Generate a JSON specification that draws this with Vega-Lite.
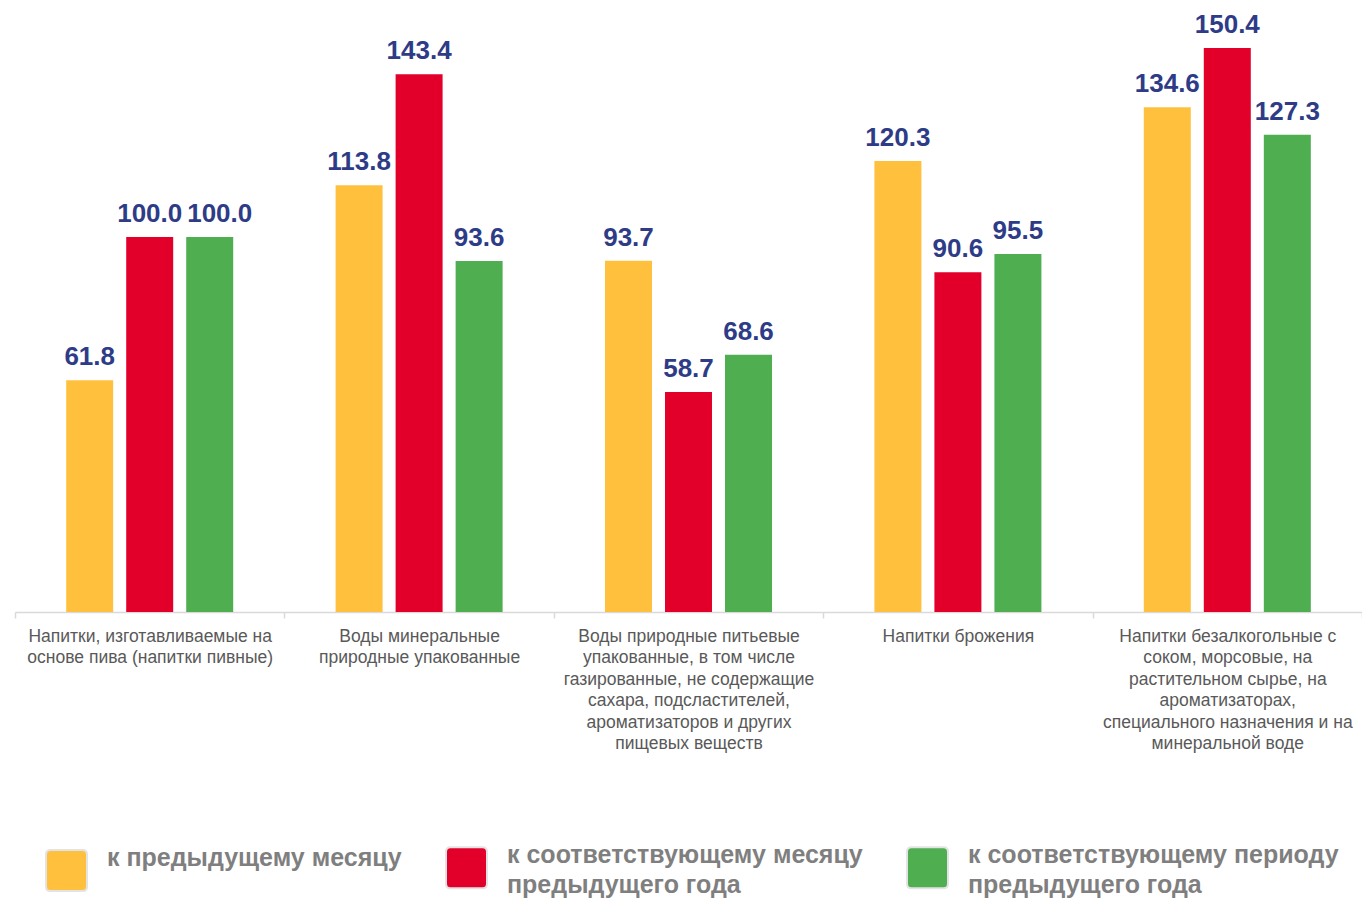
{
  "$schema": "https://vega.github.io/schema/vega-lite/v6.json",
  "width": 1347,
  "height": 612,
  "autosize": "none",
  "padding": {"left": 15, "top": 0, "right": 0, "bottom": 286},
  "config": {
    "view": {"stroke": null},
    "font": "Liberation Sans",
    "style": {"guide-label": {"lineHeight": 30}}
  },
  "data": {
    "values": [
      {"cat": "Напитки, изготавливаемые на|основе пива (напитки пивные)", "series": "к предыдущему месяцу", "value": 61.8},
      {"cat": "Напитки, изготавливаемые на|основе пива (напитки пивные)", "series": "к соответствующему месяцу|предыдущего года", "value": 100.0},
      {"cat": "Напитки, изготавливаемые на|основе пива (напитки пивные)", "series": "к соответствующему периоду|предыдущего года", "value": 100.0},
      {"cat": "Воды минеральные|природные упакованные", "series": "к предыдущему месяцу", "value": 113.8},
      {"cat": "Воды минеральные|природные упакованные", "series": "к соответствующему месяцу|предыдущего года", "value": 143.4},
      {"cat": "Воды минеральные|природные упакованные", "series": "к соответствующему периоду|предыдущего года", "value": 93.6},
      {"cat": "Воды природные питьевые|упакованные, в том числе|газированные, не содержащие|сахара, подсластителей,|ароматизаторов и других|пищевых веществ", "series": "к предыдущему месяцу", "value": 93.7},
      {"cat": "Воды природные питьевые|упакованные, в том числе|газированные, не содержащие|сахара, подсластителей,|ароматизаторов и других|пищевых веществ", "series": "к соответствующему месяцу|предыдущего года", "value": 58.7},
      {"cat": "Воды природные питьевые|упакованные, в том числе|газированные, не содержащие|сахара, подсластителей,|ароматизаторов и других|пищевых веществ", "series": "к соответствующему периоду|предыдущего года", "value": 68.6},
      {"cat": "Напитки брожения", "series": "к предыдущему месяцу", "value": 120.3},
      {"cat": "Напитки брожения", "series": "к соответствующему месяцу|предыдущего года", "value": 90.6},
      {"cat": "Напитки брожения", "series": "к соответствующему периоду|предыдущего года", "value": 95.5},
      {"cat": "Напитки безалкогольные с|соком, морсовые, на|растительном сырье, на|ароматизаторах,|специального назначения и на|минеральной воде", "series": "к предыдущему месяцу", "value": 134.6},
      {"cat": "Напитки безалкогольные с|соком, морсовые, на|растительном сырье, на|ароматизаторах,|специального назначения и на|минеральной воде", "series": "к соответствующему месяцу|предыдущего года", "value": 150.4},
      {"cat": "Напитки безалкогольные с|соком, морсовые, на|растительном сырье, на|ароматизаторах,|специального назначения и на|минеральной воде", "series": "к соответствующему периоду|предыдущего года", "value": 127.3}
    ]
  },
  "encoding": {
    "x": {
      "field": "cat",
      "type": "nominal",
      "sort": null,
      "scale": {"paddingInner": 0, "paddingOuter": 0},
      "axis": {
        "title": null,
        "labelAngle": 0,
        "labelExpr": "split(datum.label, '|')",
        "labelFont": "Liberation Sans",
        "labelFontSize": 17.5,
        "labelColor": "#595959",
        "labelLineHeight": 21.5,
        "labelLimit": 0,
        "labelPadding": 9,
        "labelOverlap": false,
        "labelFlush": false,
        "domainColor": "#d9d9d9",
        "domainWidth": 1.5,
        "tickColor": "#d9d9d9",
        "tickWidth": 1.5,
        "tickSize": 6,
        "tickBand": "extent",
        "grid": false
      }
    },
    "xOffset": {
      "field": "series",
      "type": "nominal",
      "sort": ["к предыдущему месяцу", "к соответствующему месяцу|предыдущего года", "к соответствующему периоду|предыдущего года"],
      "scale": {"paddingInner": 0.217, "paddingOuter": 0.853}
    },
    "y": {
      "field": "value",
      "type": "quantitative",
      "scale": {"domain": [0, 163.2], "nice": false},
      "axis": null
    }
  },
  "layer": [
    {
      "mark": {"type": "bar"},
      "encoding": {
        "color": {
          "field": "series",
          "type": "nominal",
          "scale": {
            "domain": ["к предыдущему месяцу", "к соответствующему месяцу|предыдущего года", "к соответствующему периоду|предыдущего года"],
            "range": ["#FFC13D", "#E2002B", "#4EAE50"]
          },
          "legend": {
            "orient": "none",
            "legendX": 30,
            "legendY": 846,
            "direction": "horizontal",
            "columns": 3,
            "title": null,
            "symbolType": "M -0.78 -1 L 0.78 -1 Q 1 -1 1 -0.78 L 1 0.78 Q 1 1 0.78 1 L -0.78 1 Q -1 1 -1 0.78 L -1 -0.78 Q -1 -1 -0.78 -1 Z",
            "symbolSize": 1681,
            "symbolOpacity": 1,
            "symbolStrokeColor": "#e3e3e3",
            "symbolStrokeWidth": 2,
            "labelExpr": "split(datum.label, '|')",
            "labelFont": "Liberation Sans",
            "labelFontWeight": "bold",
            "labelFontSize": 25,
            "labelColor": "#7f7f7f",
            "labelBaseline": "bottom",
            "labelLimit": 0,
            "labelOffset": 19,
            "columnPadding": 40
          }
        }
      }
    },
    {
      "mark": {
        "type": "text",
        "baseline": "alphabetic",
        "dy": -15,
        "dx": {"expr": "datum.value == 100 && indexof(datum.series, 'периоду') >= 0 ? 10 : 0"},
        "font": "Liberation Sans",
        "fontWeight": "bold",
        "fontSize": 26,
        "color": "#2E3C87"
      },
      "encoding": {
        "text": {"field": "value", "type": "quantitative", "format": ".1f"}
      }
    }
  ]
}
